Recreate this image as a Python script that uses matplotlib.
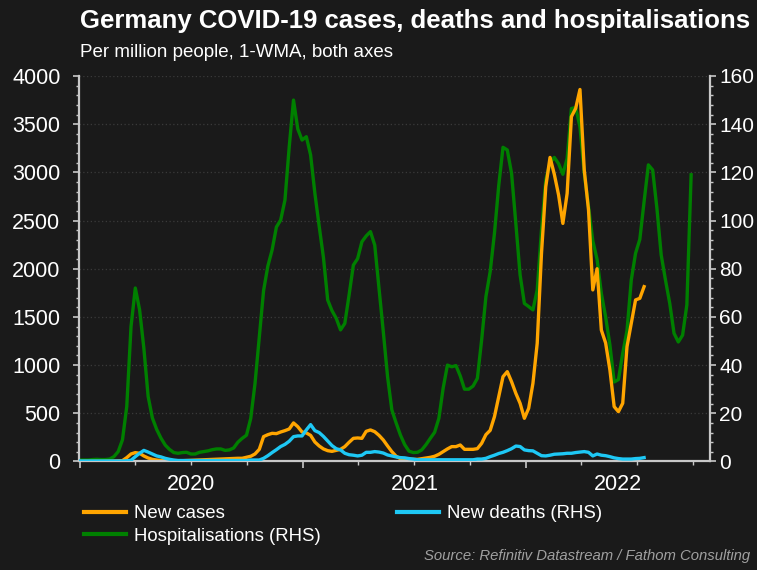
import matplotlib
matplotlib.use("Agg")
import matplotlib.pyplot as plt
import matplotlib.dates as mdates
import matplotlib.transforms as mtransforms
import pandas as pd
import numpy as np

plt.rcParams['font.family'] = ['Liberation Sans', 'DejaVu Sans']

# ---------------- data (weekly, per million people) ----------------
start_date = "2020-01-01"

hospitalisations = [
    0.6, 0.6, 0.6, 0.8, 0.9, 0.8, 0.8, 1.0, 2.0, 4.1,
    9, 22.8, 56, 72, 63, 47, 27, 18, 13.3, 9.7,
    6.8, 5.0, 3.7, 3.4, 3.7, 3.8, 3.1, 3.1, 3.8, 4.1,
    4.4, 4.9, 5.2, 5.2, 4.6, 4.8, 5.6, 8.0, 9.6, 10.9,
    17.9, 32.4, 51.8, 70.9, 81.1, 87.8, 97.3, 100.2, 108.5, 130.6,
    150, 138, 133.4, 134.8, 127.2, 111.3, 97.7, 84.7, 67, 62.6,
    59.4, 54.6, 57.3, 69.1, 81.5, 84.2, 91.2, 93.6, 95.4, 89.8,
    71.9, 53.9, 35.2, 21.4, 16, 11, 7, 4.3, 3.7, 3.8,
    4.8, 7, 9.6, 12.1, 17.9, 30.4, 40, 39.3, 39.8, 35.5,
    30, 30, 31.3, 34.5, 50.4, 68.4, 78.8, 94.7, 114.5, 130.4,
    129.3, 119.6, 98.8, 77.4, 65.6, 64.3, 62.9, 71.2, 96, 116.8,
    124, 126.2, 123.6, 119.2, 125.8, 146.5, 146.9, 138.9, 119.6, 105.8,
    91.6, 83.9, 69.8, 60, 48.4, 33, 34, 44.9, 54.3, 75.3,
    86.4, 92.2, 107.9, 123.1, 121, 105, 85.7, 75.3, 65.6, 53.2,
    49.6, 52.4, 65, 119,
]

new_cases = [
    0, 0, 0, 0, 0, 0, 1, 2, 4, 6,
    9, 40, 78, 92, 85, 57, 36, 22, 15, 10,
    8, 7, 7, 7, 8, 10, 12, 14, 16, 18,
    20, 22, 24, 26, 28, 30, 31, 33, 33, 43,
    54, 78, 126, 258, 278, 292, 289, 306, 320, 337,
    400, 361, 306, 296, 271, 202, 161, 130, 112, 105,
    116, 126, 154, 199, 240, 244, 240, 313, 327, 309,
    271, 223, 161, 102, 54, 29, 29, 22, 22, 22,
    29, 36, 43, 54, 74, 102, 130, 154, 154, 171,
    126, 126, 126, 133, 188, 278, 323, 465, 673, 880,
    932, 828, 707, 603, 448, 551, 811, 1226, 2159, 2851,
    3155, 2980, 2765, 2470, 2782, 3578, 3664, 3860, 3025, 2610,
    1780, 2000, 1364, 1230, 950, 569, 517, 604, 1191, 1434,
    1676, 1693, 1814,
]

new_deaths = [
    0.2, 0.2, 0.2, 0.2, 0.2, 0.2, 0.2, 0.2, 0.2, 0.2,
    0.2, 0.3, 0.5, 2.0, 3.4, 4.6, 3.9, 3.1, 2.3, 1.9,
    1.3, 0.9, 0.6, 0.4, 0.4, 0.4, 0.4, 0.4, 0.4, 0.4,
    0.4, 0.4, 0.4, 0.4, 0.4, 0.4, 0.4, 0.4, 0.4, 0.4,
    0.6, 0.6, 0.6, 1.3, 2.4, 3.7, 4.9, 6.2, 7.1, 8.4,
    10.3, 10.6, 10.6, 13.1, 15.3, 12.8, 12, 10.4, 8.5, 6.6,
    5.3, 4.8, 3.4, 2.8, 2.6, 2.3, 2.6, 3.8, 3.8, 4.1,
    3.9, 3.5, 2.7, 2.3, 1.9, 1.6, 1.5, 1.2, 1.0, 0.7,
    0.7, 0.7, 0.7, 0.7, 0.7, 0.7, 0.7, 0.7, 0.7, 0.7,
    0.7, 0.7, 0.7, 1.0, 1.0, 1.3, 2.0, 2.6, 3.3, 3.8,
    4.5, 5.3, 6.4, 6.2, 4.8, 4.5, 4.4, 3.4, 2.4, 2.3,
    2.6, 3.0, 3.1, 3.2, 3.4, 3.4, 3.7, 3.9, 4.1, 3.8,
    2.3, 3.1, 2.6, 2.4, 2.0, 1.5, 1.2, 1.0, 1.0, 1.0,
    1.2, 1.3, 1.6,
]

year_labels = ["2020", "2021", "2022"]
left_ticks = [0, 500, 1000, 1500, 2000, 2500, 3000, 3500, 4000]
right_ticks = [0, 20, 40, 60, 80, 100, 120, 140, 160]

# ---------------- styling ----------------
BG = "#1a1a1a"
FG = "#ffffff"
SPINE = "#c8c8c8"
C_CASES = "#ffa500"
C_DEATHS = "#1ec8f5"
C_HOSP = "#008000"
GRID = "#3a3a3a"

d_hosp = pd.date_range(start_date, periods=len(hospitalisations), freq="7D")
d_cases = pd.date_range(start_date, periods=len(new_cases), freq="7D")
d_deaths = pd.date_range(start_date, periods=len(new_deaths), freq="7D")

fig = plt.figure(figsize=(7.57, 5.70), dpi=100, facecolor=BG)
ax = fig.add_axes([0.1037, 0.1904, 0.938 - 0.1037, 0.8667 - 0.1904])
ax2 = ax.twinx()   # hospitalisations (RHS)
ax3 = ax.twinx()   # deaths (RHS)

for a in (ax, ax2, ax3):
    a.patch.set_visible(False)
fig.patch.set_facecolor(BG)

ax2.set_zorder(1)
ax.set_zorder(2)
ax3.set_zorder(3)

lw = 2.4
l_h, = ax2.plot(d_hosp, hospitalisations, color=C_HOSP, lw=lw, label="Hospitalisations (RHS)",
                solid_joinstyle="round")
l_c, = ax.plot(d_cases, new_cases, color=C_CASES, lw=lw, label="New cases", solid_joinstyle="round")
l_d, = ax3.plot(d_deaths, new_deaths, color=C_DEATHS, lw=lw, label="New deaths (RHS)",
                solid_joinstyle="round")

xmin = pd.Timestamp("2019-12-30")
xmax = pd.Timestamp("2022-10-29")
for a in (ax, ax2, ax3):
    a.set_xlim(xmin, xmax)
ax.set_ylim(0, 4000)
ax2.set_ylim(0, 160)
ax3.set_ylim(0, 160)

TICK_FS = 15.5

# left axis
ax.set_yticks(left_ticks)
ax.yaxis.set_minor_locator(matplotlib.ticker.MultipleLocator(100))
ax.tick_params(axis="y", which="major", colors=SPINE, labelcolor=FG, labelsize=TICK_FS,
               length=4, width=1.2, pad=9)
ax.tick_params(axis="y", which="minor", colors=SPINE, length=2.5, width=1.0)

# right axis
ax2.set_yticks(right_ticks)
ax2.yaxis.set_minor_locator(matplotlib.ticker.MultipleLocator(4))
ax2.tick_params(axis="y", which="major", colors=SPINE, labelcolor=FG, labelsize=15,
                length=4, width=1.2, pad=2.5)
ax2.tick_params(axis="y", which="minor", colors=SPINE, length=2.5, width=1.0)
ax2.yaxis.grid(True, which="major", color=GRID, linestyle=(0, (1, 2)), linewidth=0.9)
ax2.set_axisbelow(True)

ax3.set_yticks([])
ax3.tick_params(axis="both", which="both", length=0, labelleft=False, labelright=False, labelbottom=False)
for s in ax3.spines.values():
    s.set_visible(False)

# spines
for a in (ax, ax2):
    a.spines["top"].set_visible(False)
ax.spines["right"].set_visible(False)
ax2.spines["left"].set_visible(False)
ax2.spines["bottom"].set_visible(False)
ax.spines["left"].set_color(SPINE)
ax.spines["bottom"].set_color(SPINE)
ax2.spines["right"].set_color(SPINE)
for s in (ax.spines["left"], ax.spines["bottom"], ax2.spines["right"]):
    s.set_linewidth(1.6)

# x axis: year ticks (long), quarter ticks (short), labels centred in years
ax.xaxis.set_major_locator(mdates.YearLocator())
ax.xaxis.set_minor_locator(mdates.MonthLocator(bymonth=[4, 7, 10]))
ax.xaxis.set_major_formatter(matplotlib.ticker.NullFormatter())
ax.tick_params(axis="x", which="major", colors=SPINE, length=5, width=1.2)
ax.tick_params(axis="x", which="minor", colors=SPINE, length=3, width=1.0)
ax2.tick_params(axis="x", which="both", length=0, labelbottom=False)

trans = mtransforms.blended_transform_factory(ax.transData, ax.transAxes)
for lab in year_labels:
    y0 = pd.Timestamp(f"{lab}-01-01")
    y1 = min(pd.Timestamp(f"{int(lab) + 1}-01-01"), xmax)
    mid = y0 + (y1 - y0) / 2
    ax.text(mdates.date2num(mid), -0.032, lab, transform=trans, ha="center", va="top",
            fontsize=TICK_FS, color=FG)

# titles
fig.text(0.106, 0.964, "Germany COVID-19 cases, deaths and hospitalisations", fontsize=18.5,
         fontweight="bold", color=FG, ha="left", va="center")
fig.text(0.106, 0.908, "Per million people, 1-WMA, both axes", fontsize=13.5, color=FG,
         ha="left", va="center")

# legend
leg = fig.legend(handles=[l_c, l_h, l_d], loc="upper left", bbox_to_anchor=(0.111, 0.114),
                 ncol=2, frameon=False, fontsize=13.4, labelcolor=FG, handlelength=2.25,
                 handletextpad=0.43, columnspacing=4.1, labelspacing=0.3,
                 borderaxespad=0, borderpad=0)
for h in leg.legend_handles:
    h.set_linewidth(3.0)

fig.text(0.991, 0.024, "Source: Refinitiv Datastream / Fathom Consulting", fontsize=10.7,
         fontstyle="italic", color="#a0a0a0", ha="right", va="center")

fig.savefig("out.png", dpi=100, facecolor=BG)
